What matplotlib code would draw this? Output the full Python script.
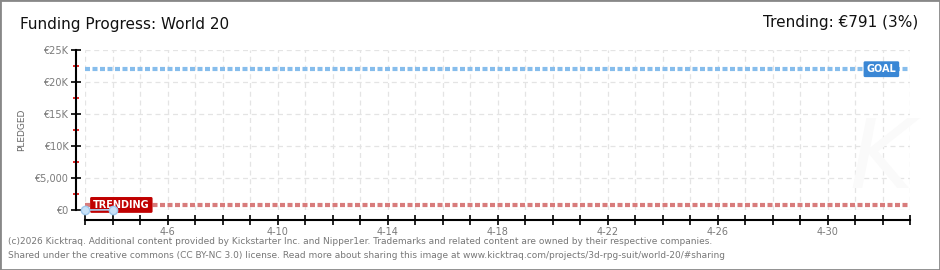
import numpy as np
import pandas as pd
import matplotlib
matplotlib.use("Agg")
from matplotlib import pyplot as plt
from matplotlib.patches import Rectangle

# datos
fechas = pd.to_datetime(["2026-04-03", "2026-04-04"])
pledged = [0, 30]
goal = 22000
trending = 791
x_ini = pd.Timestamp("2026-04-03")
x_fin = pd.Timestamp("2026-05-03")
yticks = [0, 5000, 10000, 15000, 20000, 25000]
ytick_labels = ["€0", "€5,000", "€10K", "€15K", "€20K", "€25K"]
xtick_fechas = pd.date_range("2026-04-06", "2026-04-30", freq="4D")

gris = "#7a7a7a"
fig = plt.figure(figsize=(9.4, 2.7), dpi=100)
fig.patches.append(Rectangle((0, 0), 1, 1, transform=fig.transFigure, fill=False,
                             edgecolor="#888888", linewidth=2))
ax = fig.add_axes([85/940, 1-210/270, 825/940, 160/270])

# rejilla
dias = pd.date_range(x_ini, x_fin, freq="D")
for d in dias:
    ax.axvline(d, color="#e4e4e4", linestyle=(0, (4, 3)), linewidth=0.9, zorder=0)
for v in yticks:
    ax.axhline(v, color="#e4e4e4", linestyle=(0, (4, 3)), linewidth=0.9, zorder=0)

# marca de agua
ax.text(0.965, 0.3, "K", transform=ax.transAxes, fontsize=70, color="#fafafa",
        style="italic", ha="center", va="center", zorder=0)

# lineas goal / trending
ax.plot([x_ini, x_fin], [goal, goal], color="#86bdec", linewidth=3,
        linestyle=(0, (1.2, 0.6)), zorder=2)
ax.plot([x_ini, x_fin], [trending, trending], color="#d87c7c", linewidth=3,
        linestyle=(0, (1.2, 0.6)), zorder=2)

ax.plot(fechas, pledged, color="#a8cff0", linewidth=1.2, marker="o", markersize=6,
        markerfacecolor="#c8e2f8", markeredgecolor="#a0c8ec", zorder=6, clip_on=False)

ax.text(pd.Timestamp("2026-05-02 12:00"), goal, "GOAL", color="white", fontsize=7,
        ha="right", va="center", fontweight="bold", zorder=5,
        bbox=dict(boxstyle="round,pad=0.3,rounding_size=0.15", facecolor="#3a87d5",
                  edgecolor="none"))
ax.text(pd.Timestamp("2026-04-03 07:00"), trending, "TRENDING", color="white", fontsize=7,
        ha="left", va="center", fontweight="bold", zorder=3,
        bbox=dict(boxstyle="round,pad=0.3,rounding_size=0.15", facecolor="#c00000",
                  edgecolor="none"))

ax.set_xlim(x_ini, x_fin)
ax.set_ylim(0, 25000)
for s in ["top", "right"]:
    ax.spines[s].set_visible(False)
ax.spines["bottom"].set_position(("outward", 7.5))
ax.spines["left"].set_position(("outward", 6.5))
ax.spines["bottom"].set_linewidth(1.5)
ax.spines["left"].set_linewidth(1.5)

ax.set_yticks(yticks)
ax.set_yticklabels(ytick_labels)
ax.set_yticks([2500, 7500, 12500, 17500, 22500], minor=True)
ax.tick_params(axis="y", which="major", direction="inout", length=7, width=1.2,
               labelsize=7, labelcolor=gris, pad=2)
ax.tick_params(axis="y", which="minor", direction="inout", length=5, width=1.2,
               color="#e00000")
ax.set_xticks(dias)
ax.set_xticklabels([f"{d.month}-{d.day}" if d in xtick_fechas else "" for d in dias])
ax.tick_params(axis="x", direction="inout", length=7, width=1.2, labelsize=7,
               labelcolor=gris, pad=1)
fig.text(22/940, 1-130/270, "PLEDGED", fontsize=6.5, color="#666666", rotation=90,
         ha="center", va="center")

fig.text(20/940, 1-25/270, "Funding Progress: World 20", fontsize=11, va="center",
         ha="left", color="#111111")
fig.text(918/940, 1-22/270, "Trending: €791 (3%)", fontsize=11, va="center",
         ha="right", color="#111111")
fig.text(8/940, 1-242/270, "(c)2026 Kicktraq. Additional content provided by Kickstarter Inc. and Nipper1er. Trademarks and related content are owned by their respective companies.",
         fontsize=6.5, color="#777777", va="center")
fig.text(8/940, 1-256/270, "Shared under the creative commons (CC BY-NC 3.0) license. Read more about sharing this image at www.kicktraq.com/projects/3d-rpg-suit/world-20/#sharing",
         fontsize=6.5, color="#777777", va="center")

fig.savefig("out.png", dpi=100)
